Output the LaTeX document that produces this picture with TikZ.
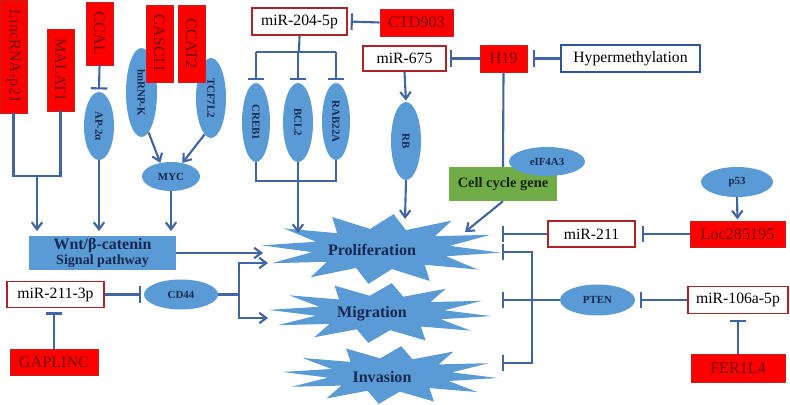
\documentclass[tikz,border=0pt]{standalone}
\usepackage{fontspec}
\setmainfont{Liberation Serif}
\usepackage{graphicx}
\usetikzlibrary{shapes.geometric,arrows.meta,calc}

\definecolor{lineblue}{RGB}{65,100,165}
\definecolor{ellfill}{RGB}{91,155,213}
\definecolor{navytext}{RGB}{22,40,80}
\definecolor{redfill}{RGB}{255,0,0}
\definecolor{redborder}{RGB}{205,30,30}
\definecolor{redtext}{RGB}{115,0,0}
\definecolor{wbborder}{RGB}{175,35,40}
\definecolor{hyperborder}{RGB}{47,85,151}
\definecolor{greenfill}{RGB}{112,173,71}
\definecolor{greentext}{RGB}{25,35,20}

\newcommand\drawburst[6]{% cx, cy, rx, ry, inner factor, points
  \fill[ellfill] plot[variable=\t, samples at={0,...,#6}]
    ({#1+(mod(\t,2)==0 ? 1 : #5)*#3*cos(\t*360/(#6+1)+6)},
     {#2+(mod(\t,2)==0 ? 1 : #5)*#4*sin(\t*360/(#6+1)+6)}) -- cycle;}

\begin{document}
\begin{tikzpicture}[x=0.03cm,y=-0.03cm,
  sz/.style 2 args={minimum width=#1*0.03cm, minimum height=#2*0.03cm},
  redbox/.style={rectangle, fill=redfill, draw=redborder, line width=0.8pt, inner sep=0pt, text=redtext, font=\fontsize{13.8}{16}\selectfont},
  whitebox/.style={rectangle, fill=white, draw=wbborder, line width=1.4pt, inner sep=0pt, text=black, font=\fontsize{13.4}{16}\selectfont},
  ell/.style={ellipse, fill=ellfill, draw=none, inner sep=0pt, text=navytext, font=\bfseries\fontsize{9.3}{10}\selectfont},
  conn/.style={draw=lineblue, line width=1.8pt},
  act/.style={conn, -{Straight Barb[length=6pt,width=9pt]}},
  inh/.style={conn, -{Bar[width=14pt]}},
  bursttext/.style={text=navytext, font=\bfseries\fontsize{13.7}{16}\selectfont},
]
\useasboundingbox (0,0) rectangle (790,405);
\fill[white] (0,0) rectangle (790,405);

% starbursts
\drawburst{381}{249}{120}{35}{0.58}{23}
\drawburst{380}{313}{112}{30}{0.58}{23}
\drawburst{390}{375}{108}{29}{0.58}{23}
\node[bursttext] (prol) at (372,250) {Proliferation};
\node[bursttext] (migr) at (372,314) {Migration};
\node[bursttext] (inva) at (382,377) {Invasion};

% ellipses
\node[ell, sz={30}{68}] (ap2) at (99,126) {\rotatebox{-90}{AP-2α}};
\node[ell, sz={31}{89}] (hnrnp) at (141.5,92.5) {\rotatebox{-90}{hnRNP-K}};
\node[ell, sz={30}{80}] (tcf) at (211,98) {\rotatebox{-90}{TCF7L2}};
\node[ell, sz={58}{29}] (myc) at (171,176.5) {MYC};
\node[ell, sz={28}{79}] (creb) at (256,122.5) {\rotatebox{-90}{CREB1}};
\node[ell, sz={30}{79}] (bcl) at (298,122.5) {\rotatebox{-90}{BCL2}};
\node[ell, sz={28}{77}] (rab) at (336,121.5) {\rotatebox{-90}{RAB22A}};
\node[ell, sz={30}{78}] (rb) at (406,141) {\rotatebox{-90}{RB}};
\node[ell, sz={72}{30}] (p53) at (737,182) {p53};
\node[ell, sz={74}{30}] (cd44) at (181,294.5) {CD44};
\node[ell, sz={75}{31}] (pten) at (597.5,300) {PTEN};

% red boxes (vertical)
\node[redbox, sz={27}{113}] (linc) at (13.5,56.5) {\rotatebox{-90}{LincRNA-p21}};
\node[redbox, sz={27}{82}] (malat) at (60.5,70) {\rotatebox{-90}{MALAT1}};
\node[redbox, sz={27}{63}] (ccal) at (99.5,33.5) {\rotatebox{-90}{CCAL}};
\node[redbox, sz={27}{77}] (casc) at (159.5,43.5) {\rotatebox{-90}{CASC11}};
\node[redbox, sz={27}{77}] (ccat) at (191.5,43.5) {\rotatebox{-90}{CCAT2}};

% red boxes (horizontal)
\node[redbox, sz={73}{27}] (ctd) at (416.5,22.5) {CTD903};
\node[redbox, sz={47}{27}] (h19) at (503.5,58.5) {H19};
\node[redbox, sz={95}{26}] (loc) at (737.5,234) {Loc285195};
\node[redbox, sz={94}{28}] (fer) at (738,368) {FER1L4};
\node[redbox, sz={88}{26}] (gap) at (54,362) {GAPLINC};

% white boxes
\node[whitebox, sz={95}{27}] (mir204) at (299.5,21.5) {miR-204-5p};
\node[whitebox, sz={83}{25}] (mir675) at (404.5,58.5) {miR-675};
\node[whitebox, sz={97}{26}] (mir2113p) at (55.5,294.5) {miR-211-3p};
\node[whitebox, sz={87}{26}] (mir211) at (591.5,234) {miR-211};
\node[whitebox, sz={100}{27}] (mir106) at (738,300) {miR-106a-5p};
\node[whitebox, draw=hyperborder, sz={139}{27}] (hyper) at (630.5,58.5) {Hypermethylation};

% green and wnt boxes
\node[rectangle, fill=greenfill, sz={108}{34}, inner sep=0pt, text=greentext, font=\bfseries\fontsize{12.3}{14}\selectfont] (ccg) at (503,184) {Cell cycle gene};
\node[ell, sz={76}{29}] (eif) at (547,161.5) {eIF4A3};
\node[rectangle, fill=ellfill, sz={147}{34}, inner sep=0pt, text=navytext, align=center, font=\bfseries\fontsize{13.6}{14}\selectfont] (wnt) at (102.5,253) {Wnt/β-catenin\\[-1pt]{\fontsize{12}{13}\selectfont Signal pathway}};

% coordinates
\coordinate (pin1) at (263,253);
\coordinate (pin2) at (268,263);
\coordinate (min) at (268,318);
\coordinate (ptop1) at (298,233);
\coordinate (ptop2) at (405,219);
\coordinate (pr1) at (465,232);
\coordinate (pr2) at (502,234);
\coordinate (pr3) at (502,252);
\coordinate (mr) at (502,300);
\coordinate (ir) at (502,363);
\coordinate (j1) at (37,176);
\coordinate (b1) at (299,52);
\coordinate (b2) at (298,181);
\coordinate (cdj) at (239,294.5);
\coordinate (pj) at (532,300);

% connectors
\draw[conn] (linc.south) |- (j1) -| (malat.south);
\draw[act, shorten >=4pt] (j1) -- (j1 |- wnt.north);
\draw[act, shorten >=4pt] (ap2.south) -- (ap2.south |- wnt.north);
\draw[act, shorten >=4pt] (myc.south) -- (myc.south |- wnt.north);
\draw[inh, shorten >=2pt] (ccal.south) -- (ap2.north);
\draw[act] (hnrnp.-80) -- (myc.128);
\draw[act] (tcf.-100) -- (myc.50);
\draw[act] (wnt.east) -- (pin1);
\draw[conn] (cd44.east) -- (cdj);
\draw[act] (cdj) |- (pin2);
\draw[act] (cdj) |- (min);
\draw[inh, shorten >=2.5pt] (mir2113p.east) -- (cd44.west);
\draw[inh, shorten >=3.5pt] (gap.north) -- (gap.north |- mir2113p.south);
\draw[conn] (mir204.south) -- (b1);
\draw[conn] (creb.north |- b1) -- (rab.north |- b1);
\draw[inh, shorten >=2.5pt] (creb.north |- b1) -- (creb.north);
\draw[inh, shorten >=2.5pt] (bcl.north |- b1) -- (bcl.north);
\draw[inh, shorten >=2.5pt] (rab.north |- b1) -- (rab.north);
\draw[inh, shorten >=2.5pt] (ctd.west) -- (mir204.east);
\draw[conn] (creb.south) |- (b2) -| (rab.south);
\draw[act] (bcl.south) -- (ptop1);
\draw[act, shorten >=1pt] (mir675.south) -- (rb.north);
\draw[inh, shorten >=2.5pt] (h19.west) -- (mir675.east);
\draw[inh, shorten >=5pt] (hyper.west) -- (h19.east);
\draw[conn] (h19.south) -- (ccg.north);
\draw[act] (rb.south) -- (ptop2);
\draw[act] (ccg.south) -- (pr1);
\draw[inh] (mir211.west) -- (pr2);
\draw[inh, shorten >=5pt] (loc.west) -- (mir211.east);
\draw[act, shorten >=1pt] (p53.south) -- (loc.north);
\draw[inh] (pten.west) -- (mr);
\draw[inh] (pj) |- (pr3);
\draw[inh] (pj) |- (ir);
\draw[inh, shorten >=4pt] (mir106.west) -- (pten.east);
\draw[inh, shorten >=5pt] (fer.north) -- (fer.north |- mir106.south);
\end{tikzpicture}
\end{document}
